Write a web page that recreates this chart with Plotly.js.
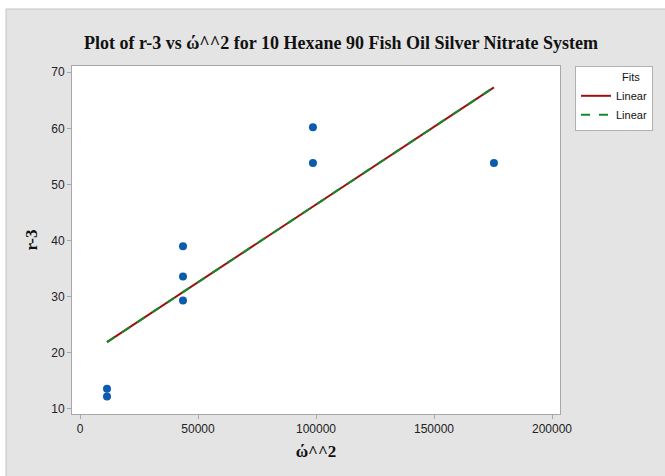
<!DOCTYPE html>
<html>
<head>
<meta charset="utf-8">
<script src="https://cdn.plot.ly/plotly-3.0.1.min.js"></script>
<style>html,body{margin:0;padding:0;background:#fff;}#chart{width:665px;height:476px;}</style>
</head>
<body>
<div id="chart"></div>
<script>
// Data
const omegaSq = [11440, 11440, 43640, 43640, 43640, 98700, 98700, 175400];
const r3      = [13.6, 12.2, 39.0, 33.6, 29.3, 60.2, 53.8, 53.8];
// Fitted line endpoints
const fitX = [11440, 175400];
const fitY = [21.9, 67.3];
const xTicks = [0, 50000, 100000, 150000, 200000];
const yTicks = [10, 20, 30, 40, 50, 60, 70];

const serif = 'Liberation Serif, Times New Roman, serif';
const sans = 'Liberation Sans, Arial, sans-serif';

const traces = [
  {x: omegaSq, y: r3, type: 'scatter', mode: 'markers', showlegend: false,
   marker: {color: '#0b5cad', size: 8}},
  {x: fitX, y: fitY, type: 'scatter', mode: 'lines', name: 'Linear',
   line: {color: '#9b1111', width: 2}},
  {x: fitX, y: fitY, type: 'scatter', mode: 'lines', name: 'Linear',
   line: {color: '#138a2a', width: 2, dash: 'dash'}}
];

const layout = {
  width: 665, height: 476,
  margin: {l: 72, r: 105, t: 66, b: 62},
  paper_bgcolor: '#e4e4e4',
  plot_bgcolor: '#ffffff',
  title: {text: '<b>Plot of r-3 vs ώ^^2 for 10 Hexane 90 Fish Oil Silver Nitrate System</b>',
          font: {family: serif, size: 18, color: '#111'},
          x: 341/665, xanchor: 'center', y: 1 - 43/476, yanchor: 'middle'},
  xaxis: {range: [-3390, 203390], tickvals: xTicks, ticktext: xTicks.map(String),
          showgrid: false, zeroline: false, showline: true, mirror: true,
          linecolor: '#a8a8a8', linewidth: 1, ticks: 'outside', ticklen: 4,
          tickcolor: '#a8a8a8', tickfont: {family: sans, size: 12, color: '#222'},
          title: {text: '<b>ώ^^2</b>', font: {family: serif, size: 17, color: '#111'}, standoff: 9}},
  yaxis: {range: [9.1, 71.1], tickvals: yTicks, ticktext: yTicks.map(String),
          showgrid: false, zeroline: false, showline: true, mirror: true,
          linecolor: '#a8a8a8', linewidth: 1, ticks: 'outside', ticklen: 4,
          tickcolor: '#a8a8a8', tickfont: {family: sans, size: 12, color: '#222'},
          title: {text: '<b>r-3</b>', font: {family: serif, size: 17, color: '#111'}, standoff: 9}},
  showlegend: true,
  legend: {x: (575-72)/488, xanchor: 'left', y: 1, yanchor: 'top',
           bgcolor: '#ffffff', bordercolor: '#b0b0b0', borderwidth: 1,
           font: {family: sans, size: 11, color: '#111'},
           title: {text: '\u2003\u2003\u2003\u2003Fits', side: 'top', font: {family: sans, size: 11, color: '#111'}},
           tracegroupgap: 0, itemwidth: 30},
  shapes: [
    {type: 'rect', xref: 'paper', yref: 'paper', x0: -0.2, x1: 1.3, y0: (414-9)/348, y1: 1.3,
     fillcolor: '#ffffff', line: {width: 0}},
    {type: 'rect', xref: 'paper', yref: 'paper', x0: -0.2, x1: (6-72)/488, y0: -0.3, y1: 1.3,
     fillcolor: '#ffffff', line: {width: 0}},
    {type: 'line', xref: 'paper', yref: 'paper', x0: (6-72)/488, x1: 1.3, y0: (414-9)/348, y1: (414-9)/348,
     line: {color: '#c4c4c4', width: 1}},
    {type: 'line', xref: 'paper', yref: 'paper', x0: (6-72)/488, x1: (6-72)/488, y0: -0.3, y1: (414-9)/348,
     line: {color: '#c4c4c4', width: 1}}
  ]
};

Plotly.newPlot('chart', traces, layout, {displayModeBar: false, staticPlot: true});
</script>
</body>
</html>
